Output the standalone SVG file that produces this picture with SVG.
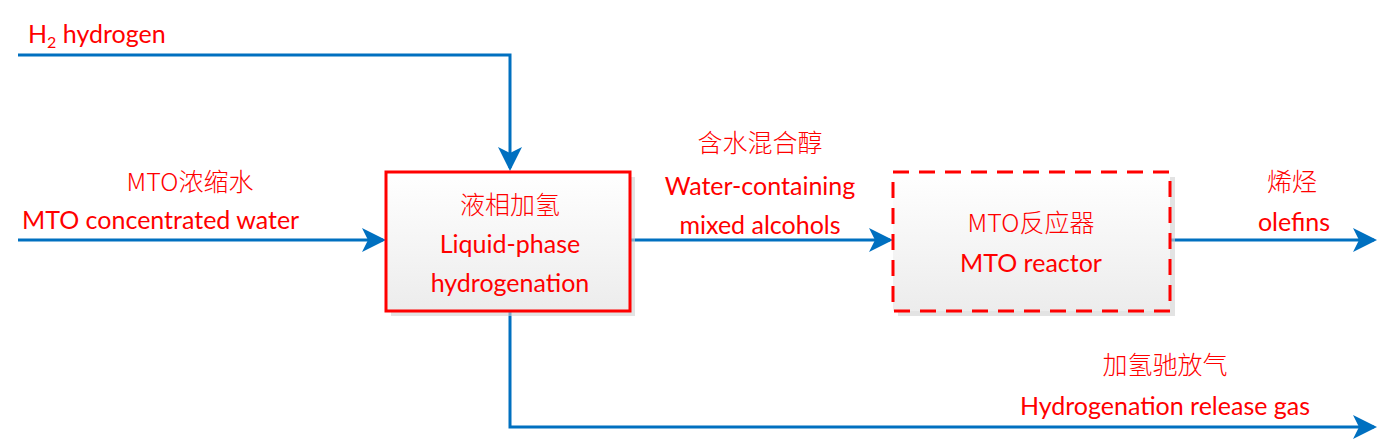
<svg xmlns="http://www.w3.org/2000/svg" width="1382" height="444" viewBox="0 0 1382 444">
<style>
.ln{fill:none;stroke:#0070C0;stroke-width:3}
.t{font-family:Lato,"Open Sans","Liberation Sans","Noto Sans CJK SC",sans-serif;font-size:25px;fill:#FF0000}
.c{font-family:"Noto Sans CJK SC",sans-serif;font-size:25px;fill:#FF0000;font-weight:300}
.m{text-anchor:middle}
</style>
<defs>
<marker id="a" markerWidth="8" markerHeight="8" refX="7" refY="4" orient="auto" markerUnits="strokeWidth"><path d="M0,0L8,4L0,8L2,4Z" fill="#0070C0"/></marker>
<linearGradient id="g" x1="0" y1="0" x2="0" y2="1"><stop offset="0" stop-color="#ffffff"/><stop offset="1" stop-color="#ececec"/></linearGradient>
</defs>
<g id="connectors">
<path class="ln" d="M18,55H510V168" marker-end="url(#a)"/>
<path class="ln" d="M18,240H383" marker-end="url(#a)"/>
<path class="ln" d="M630,240H890" marker-end="url(#a)"/>
<path class="ln" d="M1170,240H1374" marker-end="url(#a)"/>
<path class="ln" d="M510,311V427H1374" marker-end="url(#a)"/>
</g>
<g id="labels">
<text class="t" x="28" y="43">H<tspan font-size="16" dy="5">2</tspan><tspan dy="-5"> hydrogen</tspan></text>
<text class="c m" x="190" y="191">MTO浓缩水</text>
<text class="t" x="22" y="229">MTO concentrated water</text>
<text class="c m" x="760" y="152">含水混合醇</text>
<text class="t m" x="760" y="195">Water-containing</text>
<text class="t m" x="760" y="234">mixed alcohols</text>
<text class="c m" x="1292" y="191">烯烃</text>
<text class="t m" x="1294" y="231">olefins</text>
<text class="c m" x="1165" y="374">加氢驰放气</text>
<text class="t m" x="1165" y="415">Hydrogenation release gas</text>
</g>
<g id="node-hydrogenation">
<rect x="391" y="177" width="244" height="139" fill="#d0d0d0" opacity="0.6"/>
<rect x="386" y="172" width="244" height="139" fill="url(#g)" stroke="#FF0000" stroke-width="3"/>
<text class="c m" x="510" y="214">液相加氢</text>
<text class="t m" x="510" y="253">Liquid-phase</text>
<text class="t m" x="510" y="292">hydrogenation</text>
</g>
<g id="node-mto">
<rect x="898" y="177" width="277" height="139" fill="#d0d0d0" opacity="0.6"/>
<rect x="893" y="172" width="277" height="139" fill="url(#g)" stroke="#FF0000" stroke-width="3" stroke-dasharray="16,10"/>
<text class="c m" x="1031" y="232">MTO反应器</text>
<text class="t m" x="1031" y="272">MTO reactor</text>
</g>
</svg>
